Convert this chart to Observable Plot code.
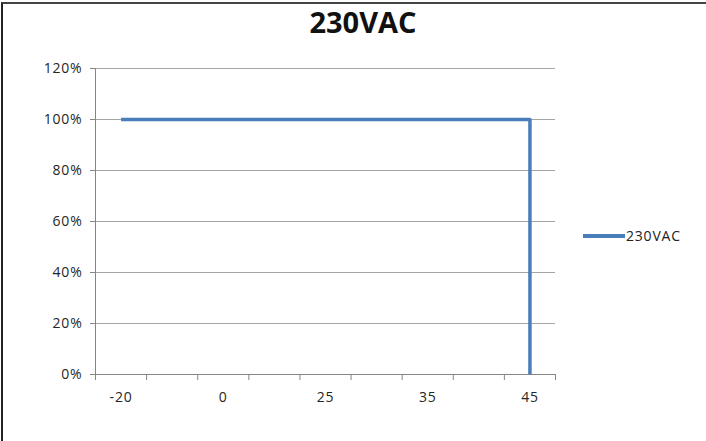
<!DOCTYPE html>
<html>
<head>
<meta charset="utf-8">
<script src="https://cdn.jsdelivr.net/npm/d3@7"></script>
<script src="https://cdn.jsdelivr.net/npm/@observablehq/plot@0.6"></script>
<style>
  html, body { margin: 0; padding: 0; background: #fff; }
  #wrap { position: relative; width: 706px; height: 441px; overflow: hidden; font-family: "Open Sans", sans-serif; }
  #frame { position: absolute; left: 1px; top: 2px; width: 720px; height: 460px; border-top: 2px solid #444; border-left: 2px solid #222; box-sizing: border-box; }
  #title { position: absolute; left: 0; width: 726px; top: 0px; text-align: center; font-weight: 700; font-size: 29px; color: #111; line-height: 44px; }
  #legend { position: absolute; left: 583px; top: 226px; display: flex; align-items: center; font-size: 14px; letter-spacing: 0.8px; color: #222; }
  #legend .sw { width: 42px; height: 4px; background: #4A7EBB; margin-right: 1px; }
  #chart { position: absolute; left: 0; top: 0; }
  #chart svg text { letter-spacing: 0.8px; }
</style>
</head>
<body>
<div id="wrap">
  <div id="frame"></div>
  <div id="chart"></div>
  <div id="title">230VAC</div>
  <div id="legend"><div class="sw"></div><span>230VAC</span></div>
</div>
<script>
// Categories on the x axis (only every other one carries a label)
const categories = ["-20", "-10", "0", "10", "25", "30", "35", "40", "45"];
const labeledCategories = ["-20", "0", "25", "35", "45"];
// Series 230VAC: category of each point and its load value
const seriesCategories = ["-20", "-10", "0", "10", "25", "30", "35", "40", "45", "45"];
const seriesValues = [1, 1, 1, 1, 1, 1, 1, 1, 1, 0];
const yTicks = [0, 0.2, 0.4, 0.6, 0.8, 1.0, 1.2];

const data = seriesCategories.map((c, i) => ({x: categories.indexOf(c), y: seriesValues[i]}));
const boundaries = d3.range(categories.length + 1).map(i => i - 0.5);
const labelTicks = labeledCategories.map(c => categories.indexOf(c));

const chart = Plot.plot({
  width: 706,
  height: 441,
  marginLeft: 95,
  marginRight: 151,
  marginTop: 68,
  marginBottom: 67,
  style: {fontFamily: "Open Sans, sans-serif", fontSize: "14px", color: "#262626", background: "transparent", overflow: "visible"},
  x: {type: "linear", domain: [-0.5, categories.length - 0.5]},
  y: {domain: [0, 1.2]},
  marks: [
    Plot.gridY(yTicks, {stroke: "#a6a6a6", strokeOpacity: 1, strokeWidth: 1}),
    Plot.axisY(yTicks, {tickFormat: d3.format(".0%"), tickSize: 5, tickPadding: 8, stroke: "#868686", label: null, fontSize: 14}),
    Plot.ruleX([-0.5], {stroke: "#868686"}),
    Plot.axisX(boundaries, {tickSize: 6, tickFormat: () => "", stroke: "#868686", label: null}),
    Plot.axisX(labelTicks, {tickSize: 0, tickPadding: 18, tickFormat: i => categories[i], label: null, fontSize: 14}),
    Plot.ruleY([0], {stroke: "#868686"}),
    Plot.line(data, {x: "x", y: "y", stroke: "#4A7EBB", strokeWidth: 3.5, strokeLinejoin: "round", strokeLinecap: "butt"})
  ]
});
document.getElementById("chart").appendChild(chart);
</script>
</body>
</html>
